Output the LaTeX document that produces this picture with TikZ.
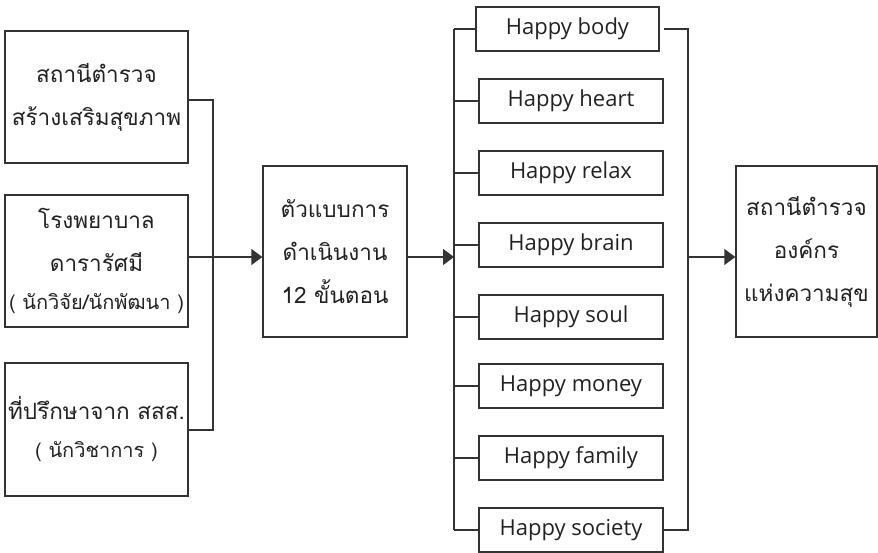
\documentclass[tikz,border=0pt]{standalone}
\usepackage{fontspec}
\setmainfont[Script=Thai]{Loma}
\newfontfamily\latinfont{Open Sans}
\usetikzlibrary{arrows.meta}
\definecolor{ln}{HTML}{333333}
\definecolor{tx}{HTML}{222222}
\begin{document}
\begin{tikzpicture}[x=1pt,y=-1pt,
  box/.style={draw=ln,line width=1.4pt,rectangle,inner sep=0pt,align=center,text=tx,font=\fontsize{22.5}{43}\selectfont},
  hbox/.style={box,minimum width=184pt,minimum height=44pt,font=\latinfont\fontsize{22}{26}\selectfont},
  conn/.style={draw=ln,line width=1.4pt},
  arr/.style={conn,-{Triangle[length=11pt,width=16pt]}}]
\useasboundingbox (0,0) rectangle (878,552);
\fill[white] (0,0) rectangle (878,552);
% left boxes
\node[box,minimum width=183pt,minimum height=132pt] (b1) at (96.5,97) {สถานีตำรวจ\\สร้างเสริมสุขภาพ};
\node[box,minimum width=183pt,minimum height=132pt] (b2) at (96.5,261) {โรงพยาบาล\\ดารารัศมี\\[-5pt]{\fontsize{20}{38}\selectfont ( นักวิจัย/นักพัฒนา )}};
\node[box,minimum width=183pt,minimum height=133pt] (b3) at (96.5,429.5) {ที่ปรึกษาจาก สสส.\\[-5pt]{\fontsize{20}{38}\selectfont ( นักวิชาการ )}};
% middle
\node[box,minimum width=144pt,minimum height=171pt] (mid) at (335,251.5) {ตัวแบบการ\\ดำเนินงาน\\12 ขั้นตอน};
% happy boxes
\node[hbox,minimum width=183pt] (h1) at (567.5,29) {Happy body};
\node[hbox] (h2) at (571,101) {Happy heart};
\node[hbox] (h3) at (571,173) {Happy relax};
\node[hbox] (h4) at (571,245) {Happy brain};
\node[hbox] (h5) at (571,317) {Happy soul};
\node[hbox] (h6) at (571,386) {Happy money};
\node[hbox] (h7) at (571,458) {Happy family};
\node[hbox] (h8) at (571,530) {Happy society};
% right box
\node[box,minimum width=141pt,minimum height=171pt] (fin) at (806.5,251.5) {สถานีตำรวจ\\องค์กร\\แห่งความสุข};
% coordinates
\coordinate (lv1) at (213,100);
\coordinate (lv3) at (213,430);
\coordinate (mv1) at (454,29);
\coordinate (mv8) at (454,530);
\coordinate (mva) at (454,257);
\coordinate (rv1) at (688,29);
\coordinate (rv8) at (688,530);
\coordinate (rva) at (688,257);
\coordinate (h1e) at (664,29);
% connectors
\draw[conn] (b1.east |- lv1) -- (lv1) -- (lv3) -- (b3.east |- lv3);
\draw[arr] (b2.east |- mva) -- (mid.west |- mva);
\draw[arr] (mid.east |- mva) -- (mva);
\draw[conn] (mv1) -- (mv8);
\foreach \h in {h1,h2,h3,h4,h5,h6,h7,h8} \draw[conn] (mv1 |- \h.west) -- (\h.west);
\draw[conn] (h1e) -- (rv1) -- (rv8) -- (h8.east);
\draw[arr] (rva) -- (fin.west |- rva);
\end{tikzpicture}
\end{document}
